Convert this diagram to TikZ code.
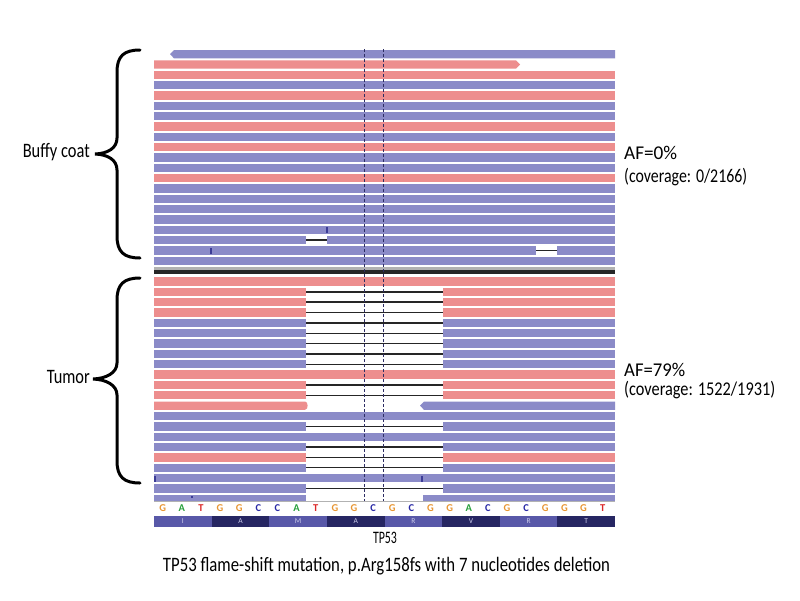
\documentclass[tikz,border=0pt]{standalone}
\usepackage{fontspec}
\setmainfont{Carlito}
\usepackage{graphicx}
\definecolor{rb}{RGB}{139,139,200}
\definecolor{rp}{RGB}{237,142,142}
\definecolor{mk}{RGB}{60,60,150}
\definecolor{dl}{RGB}{45,45,100}
\definecolor{ntG}{RGB}{232,150,50}
\definecolor{ntA}{RGB}{40,160,60}
\definecolor{ntT}{RGB}{220,40,40}
\definecolor{ntC}{RGB}{40,40,165}
\definecolor{aal}{RGB}{88,88,168}
\definecolor{aad}{RGB}{38,38,98}
\definecolor{aat}{RGB}{205,205,235}
\newcommand{\fitw}[2]{\resizebox{#1}{\height}{#2}}
\tikzset{
  gapline/.style={draw=black!85,line width=1.4pt},
  vdash/.style={draw=dl,line width=1.3pt,dash pattern=on 3pt off 2pt},
  brace/.style={draw=black,line width=3pt,line cap=round},
  lbl/.style={inner sep=0pt,font=\fontsize{20.5}{20.5}\selectfont},
  rlbl/.style={inner sep=0pt,font=\fontsize{19.5}{19.5}\selectfont},
  nt/.style={inner sep=0pt,font=\fontsize{10.5}{10.5}\selectfont\bfseries},
  aa/.style={inner sep=0pt,text=aat,font=\fontsize{7.5}{7.5}\selectfont},
}
\begin{document}
\begin{tikzpicture}[x=1pt,y=-1pt]
\useasboundingbox (0,0) rectangle (800,600);
\fill[white] (0,0) rectangle (800,600);
% ---- Buffy coat reads ----
\fill[rb] (174,50) -- (615,50) -- (615,58.3) -- (174,58.3) -- (170,54.15) -- cycle;
\fill[rp] (154,60.33) -- (516,60.33) -- (520,64.5) -- (516,68.63) -- (154,68.63) -- cycle;
\foreach \c [count=\i from 2] in {rp,rb,rp,rb,rb,rp,rb,rp,rb,rb,rp,rb,rb,rb,rb,rb,rb,rb,rb} {
  \pgfmathsetmacro{\yt}{50+10.33*\i}
  \fill[\c] (154,\yt) rectangle (615,\yt+8.3);
}
% mismatches / small deletions in buffy coat
\fill[mk] (326,227) rectangle (327.8,233);
\fill[white] (306,235.9) rectangle (327,244.2);
\draw[gapline] (306,240.05) -- (327,240.05);
\fill[mk] (210,248) rectangle (211.8,254);
\fill[white] (536,246.3) rectangle (557,254.6);
\draw[gapline] (536,250.45) -- (557,250.45);
% ---- separator ----
\fill[black!30] (154,266.5) rectangle (615,269.5);
\fill[black!85] (154,269.5) rectangle (615,273.5);
% ---- Tumor reads ----
\foreach \c/\t [count=\j from 0] in {rp/0,rp/1,rp/1,rp/1,rb/1,rb/1,rb/1,rb/1,rb/1,rp/0,rp/1,rp/1,rp/2,rb/0,rb/1,rb/0,rb/1,rp/1,rb/1,rb/0,rb/1,rb/2} {
  \pgfmathsetmacro{\yt}{277.3+10.35*\j}
  \ifnum\t=0 \fill[\c] (154,\yt) rectangle (615,\yt+8.3); \fi
  \ifnum\t=1
    \fill[\c] (154,\yt) rectangle (306,\yt+8.3);
    \fill[\c] (442.7,\yt) rectangle (615,\yt+8.3);
    \draw[gapline] (306,\yt+4.15) -- (442.7,\yt+4.15);
  \fi
}
% row 13: read ends on both sides of the deletion
\fill[rp] (154,401.5) -- (305,401.5) .. controls (308.5,401.5) and (308.5,409.8) .. (305,409.8) -- (154,409.8) -- cycle;
\fill[rb] (424,401.5) -- (615,401.5) -- (615,409.8) -- (424,409.8) -- (420,405.65) -- cycle;
% last row (cut)
\fill[rb] (154,494.65) rectangle (306,500.5);
\fill[rb] (422.7,494.65) rectangle (615,500.5);
\fill[mk] (191,496) rectangle (193,498);
% row 20 marks
\fill[mk] (421,475.5) rectangle (422.8,481.5);
\fill[mk] (154,475.5) rectangle (155.5,481.5);
% ---- dashed guide lines ----
\draw[vdash] (364.3,49) -- (364.3,500.5);
\draw[vdash] (383.7,49) -- (383.7,500.5);
% bottom line
\fill[black!30] (154,500.5) rectangle (615,502);
% ---- reference sequence ----
\foreach \n [count=\k from 0] in {G,A,T,G,G,C,C,A,T,G,G,C,G,C,G,G,A,C,G,C,G,G,G,T} {
  \node[nt,text=nt\n] (nt\k) at (162.7+19.13*\k,508.3) {\n};
}
% ---- amino acids ----
\foreach \a/\col [count=\k from 0] in {I/aal,A/aad,M/aal,A/aad,R/aal,V/aad,R/aal,T/aad} {
  \fill[\col] (154+57.625*\k,516) rectangle (154+57.625*\k+57.625,526.7);
  \node[aa] (aa\k) at (154+57.625*\k+28.8,521.35) {\a};
}
\node[inner sep=0pt,anchor=base,font=\fontsize{17.5}{17.5}\selectfont] (gene) at (385,543) {\fitw{24pt}{TP53}};
% ---- braces ----
\draw[brace] (140,50) .. controls (124,50) and (117,56) .. (117,72) -- (117,138)
  .. controls (117,148) and (108,153.5) .. (95,154) .. controls (108,154.5) and (117,160) .. (117,170)
  -- (117,236) .. controls (117,252) and (124,258) .. (140,258);
\draw[brace] (140,278) .. controls (124,278) and (117,284) .. (117,300) -- (117,363)
  .. controls (117,373) and (106,378.5) .. (93,379) .. controls (106,379.5) and (117,385) .. (117,395)
  -- (117,461) .. controls (117,477) and (124,483) .. (140,483);
% ---- labels ----
\node[lbl,anchor=base east] (buffy) at (90,157.5) {\fitw{67pt}{Buffy coat}};
\node[lbl,anchor=base east] (tumor) at (90,383) {\fitw{43pt}{Tumor}};
\node[rlbl,anchor=base west] (af0) at (624,159) {\fitw{53pt}{AF=0\%}};
\node[rlbl,anchor=base west] (cov0) at (624,182.5) {\fitw{123pt}{(coverage: 0/2166)}};
\node[rlbl,anchor=base west] (af79) at (624,376) {\fitw{61pt}{AF=79\%}};
\node[rlbl,anchor=base west] (cov79) at (624,395.5) {\fitw{151pt}{(coverage: 1522/1931)}};
\node[lbl,anchor=base] (caption) at (386.5,571.5) {\fitw{447pt}{TP53 flame-shift mutation, p.Arg158fs with 7 nucleotides deletion}};
\end{tikzpicture}
\end{document}
